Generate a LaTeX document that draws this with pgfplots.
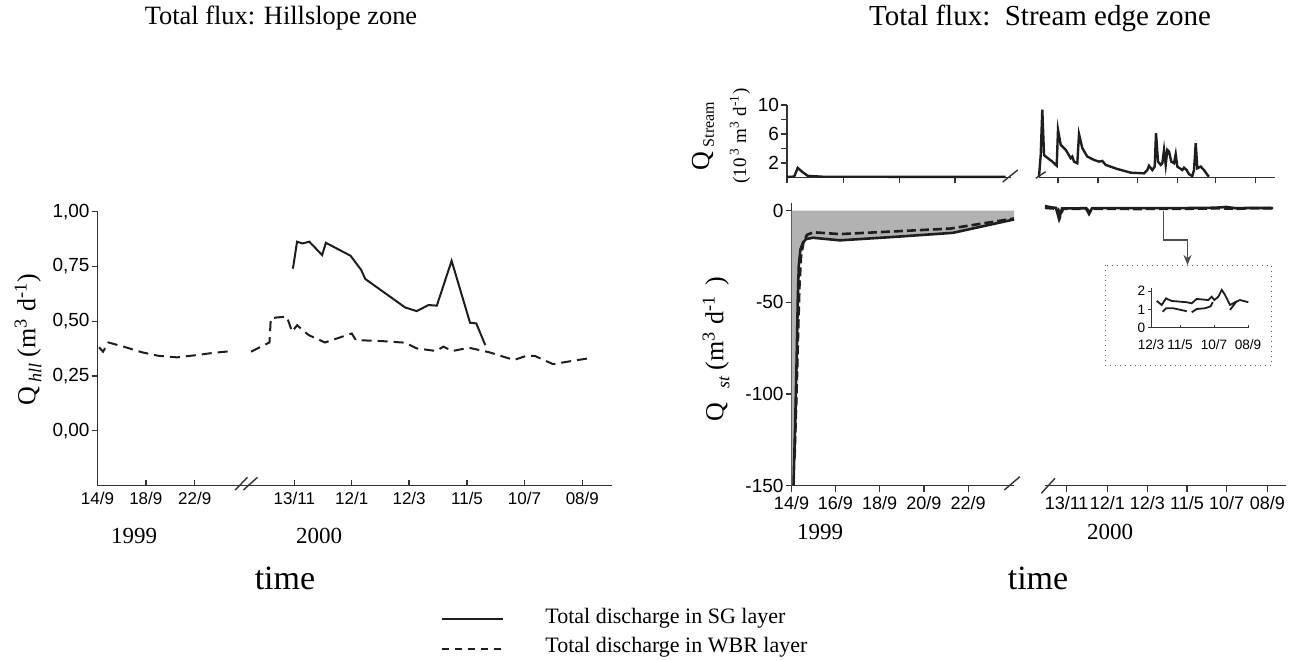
\documentclass[border=0pt]{standalone}
\usepackage{fontspec}
\setmainfont{Liberation Serif}
\newfontfamily\arial{Liberation Sans}
\usepackage{pgfplots}
\pgfplotsset{compat=1.18}
\usetikzlibrary{arrows.meta}

\definecolor{ink}{HTML}{1E1E1E}
\definecolor{axc}{HTML}{333333}

\pgfplotsset{
  base/.style={
    scale only axis, clip=false, anchor=south west,
    tick style={line width=0.7pt, axc},
    major tick length=3pt,
    tick label style={font=\arial\fontsize{9.5}{10}\selectfont},
    yticklabel style={inner sep=0.8pt},
  },
  noarrow/.style={
    axis line style={-, line width=0.7pt, axc},
    x axis line style={-}, y axis line style={-},
  },
}

\begin{document}
\begin{tikzpicture}
\path[use as bounding box] (0,0) rectangle (644.5pt,330pt);

% ---------------- Hillslope zone ----------------
\begin{axis}[base,
  at={(48.75pt,87.25pt)}, width=257pt, height=136.9pt,
  xmin=96.5, xmax=607, ymin=-0.25, ymax=1,
  axis x line=bottom, axis y line=left,
  xtick align=inside, ytick align=outside,
  xtick={96.5,144.5,193,292,349,406,463.5,520.5,578},
  xticklabels={14/9,18/9,22/9,13/11,12/1,12/3,11/5,10/7,08/9},
  ytick={0,0.25,0.5,0.75,1},
  yticklabels={{0,00},{0,25},{0,50},{0,75},{1,00}},
  xticklabel style={font=\arial\fontsize{8.5}{9}\selectfont},
  noarrow,
]
\addplot[line width=1pt, ink] table {
290.6 0.740
294.7 0.863
300.0 0.855
306.9 0.863
319.6 0.802
323.3 0.858
347.8 0.799
358.4 0.734
362.4 0.693
402.0 0.563
413.5 0.546
425.3 0.574
433.5 0.571
448.2 0.776
466.5 0.493
472.7 0.490
481.6 0.391
};
\addplot[line width=1pt, ink, dash pattern=on 5pt off 3pt, unbounded coords=jump] table {
98.0 0.381
102.0 0.361
107.3 0.403
122.4 0.384
140.8 0.358
157.1 0.342
175.5 0.335
195.9 0.346
212.2 0.356
230.6 0.364
240.0 nan
249.0 0.361
267.3 0.403
268.6 0.513
274.3 0.517
284.5 0.521
289.8 0.452
294.7 0.482
306.1 0.437
322.4 0.403
349.0 0.444
353.1 0.414
379.6 0.409
402.0 0.402
413.5 0.376
432.7 0.364
440.0 0.384
449.0 0.364
465.3 0.379
485.7 0.358
510.2 0.323
522.4 0.342
530.6 0.342
549.0 0.304
569.4 0.320
587.8 0.333
};
\end{axis}

% ---------------- Stream edge zone: Q stream ----------------
\begin{axis}[base,
  at={(393.5pt,241.35pt)}, width=111.85pt, height=36.15pt,
  xmin=784.3, xmax=1008, ymin=0, ymax=10,
  axis x line=bottom, axis y line=left, tick align=outside,
  xtick={784.3,840.7,896.7,952.3}, xticklabels={},
  ytick={2,4,6,8,10}, yticklabels={2,,6,,10},
  noarrow,
]
\addplot[line width=1.2pt, ink] table {
784.3 0.05
791.5 0.1
795.0 1.3
800.0 0.7
805.0 0.2
820.0 0.08
1003.0 0.05
};
\end{axis}

\begin{axis}[base,
  at={(519.5pt,241.35pt)}, width=118pt, height=36.15pt,
  xmin=1035, xmax=1271, ymin=0, ymax=10,
  axis x line=bottom, axis y line=none, tick align=outside,
  xtick={1054,1094,1133.3,1173.3,1211.7,1251.7}, xticklabels={},
  noarrow,
]
\addplot[line width=1.2pt, ink] table {
1035.0 0.08
1036.7 3.1
1038.3 9.35
1040.0 3.1
1041.7 2.87
1048.3 2.17
1052.7 1.6
1054.0 6.57
1056.7 4.49
1061.7 3.8
1066.7 2.64
1068.3 2.87
1070.0 2.17
1073.3 1.94
1075.0 5.97
1078.3 4.03
1083.3 2.87
1090.0 2.4
1095.0 2.17
1098.3 2.26
1101.7 1.71
1113.3 1.15
1126.7 0.64
1140.0 0.55
1143.3 1.0
1145.0 1.6
1148.3 1.0
1150.7 1.48
1152.0 6.1
1154.0 2.17
1156.7 1.71
1158.3 1.94
1160.0 3.8
1161.7 1.71
1163.3 3.8
1165.0 3.56
1167.3 2.17
1170.0 1.94
1171.7 3.2
1173.3 1.48
1178.3 1.0
1180.0 1.33
1182.7 1.0
1185.0 0.42
1188.3 0.18
1190.0 1.0
1191.7 4.72
1193.3 1.25
1196.7 1.48
1200.0 1.0
1204.0 0.22
1205.0 0.08
};
\end{axis}

% ---------------- Stream edge zone: Q st ----------------
\begin{axis}[base,
  at={(395.75pt,87.15pt)}, width=111.25pt, height=141.2pt,
  xmin=791.5, xmax=1014, ymin=-150, ymax=4,
  axis x line=bottom, axis y line=left, tick align=outside,
  xtick={791.5,835.3,879.6,923.9,968.2},
  xticklabels={14/9,16/9,18/9,20/9,22/9},
  ytick={-150,-100,-50,0}, yticklabels={-150,-100,-50,0},
  xticklabel style={font=\arial\fontsize{9}{10}\selectfont, inner sep=2pt},
  noarrow,
]
\addplot[fill=gray!60, draw=none] table {
791.5 0
791.5 -150
793.5 -150
795 -120
796.5 -85
797.8 -48
798.8 -30
800.5 -21
803 -17.5
806 -15.5
813 -14.8
840 -16.2
895 -14.3
953 -12.1
1014 -4.8
1014 0
} -- cycle;
\addplot[line width=1.3pt, ink, dash pattern=on 4.5pt off 2pt] table {
794.5 -135
796.5 -100
798 -68
799.5 -40
801 -25
803.5 -17
807 -13.2
813.3 -11.8
840 -12.8
950 -9.8
1014 -4.3
};
\addplot[line width=1.3pt, ink] table {
793.5 -150
795 -120
796.5 -85
797.8 -48
798.8 -30
800.5 -21
803 -17.5
806 -15.5
813 -14.8
840 -16.2
895 -14.3
953 -12.1
1014 -4.8
};
\end{axis}

\begin{axis}[base,
  at={(522.5pt,87.15pt)}, width=120.5pt, height=141.2pt,
  xmin=1039, xmax=1280, ymin=-150, ymax=4,
  axis x line=bottom, axis y line=none, tick align=outside,
  xtick={1060.6,1101.4,1141.4,1181,1220.6,1261.3},
  xticklabels={13/11,12/1,12/3,11/5,10/7,08/9},
  xticklabel style={font=\arial\fontsize{9}{10}\selectfont, inner sep=2pt},
  noarrow,
]
\addplot[line width=1.3pt, ink, dash pattern=on 4.5pt off 2pt] table {
1039 1.5
1052 1.0
1054 -3.5
1057 1.0
1081 1.0
1083.5 -1
1086 1.0
1130 0.9
1170 1.0
1200 1.1
1212 1.3
1230 1.0
1245 1.3
1267 1.3
};
\addplot[line width=1.3pt, ink] table {
1039 2.5
1045 1.8
1050 1.5
1053 -4.5
1056 1.2
1080 1.3
1083 -1.8
1086 1.3
1100 1.4
1130 1.4
1160 1.4
1180 1.4
1200 1.5
1210 1.6
1220 2.0
1230 1.3
1245 1.5
1267 1.4
};
\end{axis}

% ---------------- inset ----------------
\draw[gray!70!black, line width=0.5pt, dotted] (552.5pt,197.5pt) rectangle (635.85pt,147.5pt);
\begin{axis}[base,
  at={(575.5pt,166.15pt)}, width=48.65pt, height=19.7pt,
  xmin=1151, xmax=1248.3, ymin=0, ymax=2.15,
  axis x line=bottom, axis y line=left,
  xtick align=inside, ytick align=outside,
  major tick length=1.5pt,
  tick style={line width=0.5pt, axc},
  xtick={1151,1180,1214,1248}, xticklabels={12/3,11/5,10/7,08/9},
  ytick={0,1,2}, yticklabels={0,1,2},
  tick label style={font=\arial\fontsize{6.8}{7}\selectfont},
  xticklabel style={inner sep=0pt, yshift=-6pt},
  yticklabel style={inner sep=1.2pt},
  noarrow, axis line style={line width=0.5pt},
]
\addplot[line width=0.9pt, ink] table {
1156.7 1.46
1161.7 1.24
1166.0 1.60
1171.7 1.46
1186.7 1.39
1191.7 1.33
1196.7 1.57
1208.3 1.51
1211.7 1.69
1214.3 1.51
1218.3 1.69
1221.7 2.06
1225.0 1.79
1230.0 1.24
1235.0 1.39
1240.0 1.51
1248.3 1.39
};
\addplot[line width=0.9pt, ink, unbounded coords=jump] table {
1162.7 0.87
1166.0 1.06
1173.3 1.06
1186.7 0.90
1189.0 nan
1191.7 0.84
1196.7 1.02
1205.0 1.06
1210.7 1.17
1212.7 1.40
1220.0 nan
1230.0 0.97
1236.7 1.45
};
\end{axis}

% arrow to inset
\draw[gray!60!black, line width=0.8pt, -{Stealth[length=5pt,width=4pt]}]
  (581.65pt,224.35pt) -- (581.65pt,210.15pt) -- (593.75pt,210.15pt) -- (593.75pt,197.5pt);

% axis breaks
\draw[axc, line width=0.7pt] (117.6pt,85pt) -- (123.75pt,91.35pt);
\draw[axc, line width=0.7pt] (121.7pt,85pt) -- (128.75pt,91.35pt);
\draw[axc, line width=0.7pt] (501.35pt,239pt) -- (508.85pt,245pt);
\draw[axc, line width=0.7pt] (517.85pt,240.85pt) -- (522.85pt,244.15pt);
\draw[axc, line width=0.7pt] (502.15pt,85pt) -- (509.9pt,91.65pt);
\draw[axc, line width=0.7pt] (520.65pt,83.35pt) -- (527.5pt,90.85pt);

% titles and labels
\node[font=\fontsize{13.2}{13}\selectfont] at (140.5pt,321pt) {Total flux: Hillslope zone};
\node[font=\fontsize{14.5}{14}\selectfont] at (520pt,321pt) {Total flux:\ \ Stream edge zone};

\node[rotate=90, font=\fontsize{13}{13}\selectfont] at (14pt,160pt)
  {Q\,\raisebox{-0.5ex}{\fontsize{9}{9}\selectfont\itshape hll} (m\textsuperscript{3} d\textsuperscript{-1})};
\node[rotate=90, font=\fontsize{13}{13}\selectfont] at (358pt,155.5pt)
  {Q\hspace{7pt}\raisebox{-0.5ex}{\fontsize{9}{9}\selectfont\itshape st} (m\textsuperscript{3} d\textsuperscript{-1}\hspace{5pt})};
\node[rotate=90, font=\fontsize{13}{13}\selectfont] at (351.5pt,262pt)
  {Q\,\raisebox{-0.4ex}{\fontsize{8}{8}\selectfont Stream}};
\node[rotate=90, font=\fontsize{9.5}{10}\selectfont] at (370pt,262pt)
  {(10\textsuperscript{\,3} m\textsuperscript{3} d\textsuperscript{-1})};

\node[font=\fontsize{11.5}{11.5}\selectfont] at (67pt,62pt) {1999};
\node[font=\fontsize{11.5}{11.5}\selectfont] at (159.5pt,62pt) {2000};
\node[font=\fontsize{11.5}{11.5}\selectfont] at (410pt,64pt) {1999};
\node[font=\fontsize{11.5}{11.5}\selectfont] at (555pt,64pt) {2000};

\node[font=\fontsize{17}{17}\selectfont] at (142.5pt,41pt) {time};
\node[font=\fontsize{17}{17}\selectfont] at (519pt,41pt) {time};

% legend
\draw[ink, line width=1pt] (220.85pt,20.35pt) -- (251.65pt,20.35pt);
\node[anchor=west, inner sep=0pt, font=\fontsize{11}{11}\selectfont] at (272.5pt,21pt) {Total discharge in SG layer};
\draw[ink, line width=1pt, dash pattern=on 3.5pt off 3pt] (220.85pt,5.5pt) -- (251.65pt,5.5pt);
\node[anchor=west, inner sep=0pt, font=\fontsize{11}{11}\selectfont] at (272.5pt,6.5pt) {Total discharge in WBR layer};
\end{tikzpicture}
\end{document}
